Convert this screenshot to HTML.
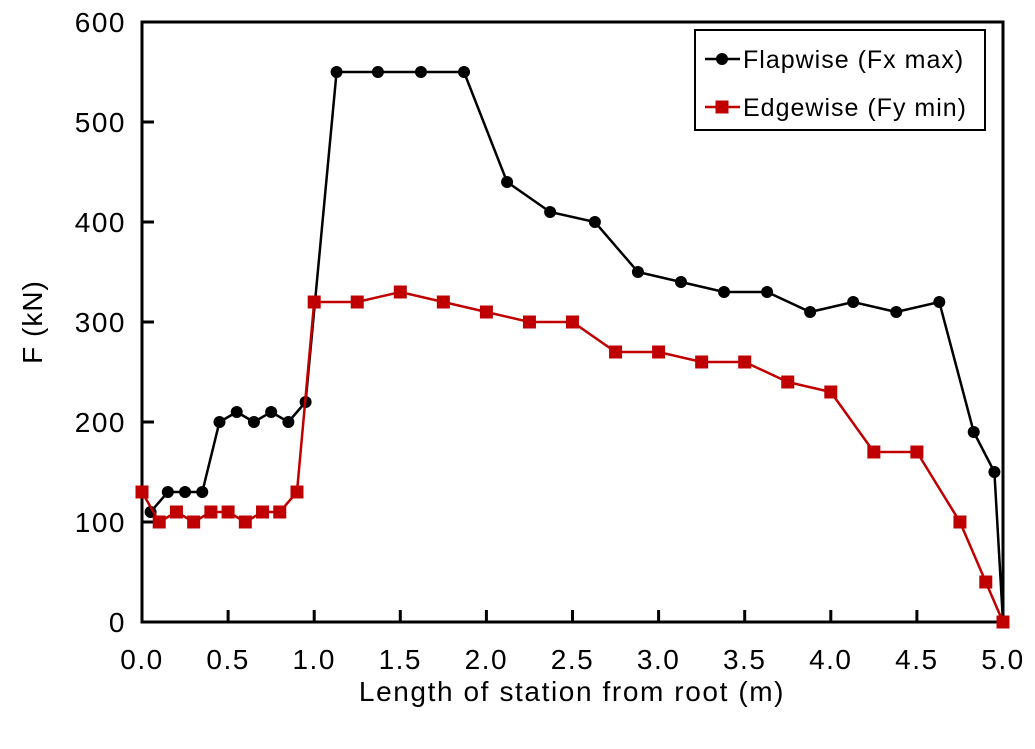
<!DOCTYPE html>
<html><head><meta charset="utf-8"><style>
body{margin:0;background:#fff;}
svg{display:block;font-family:"Liberation Sans",sans-serif;}
</style></head><body>
<svg id="chart" width="1035" height="749"></svg>
<script>
const flapX=[0.05,0.15,0.25,0.35,0.45,0.55,0.65,0.75,0.85,0.95,1.13,1.37,1.62,1.87,2.12,2.37,2.63,2.88,3.13,3.38,3.63,3.88,4.13,4.38,4.63,4.83,4.95,5.0];
const flapY=[110,130,130,130,200,210,200,210,200,220,550,550,550,550,440,410,400,350,340,330,330,310,320,310,320,190,150,0];
const edgeX=[0,0.1,0.2,0.3,0.4,0.5,0.6,0.7,0.8,0.9,1.0,1.25,1.5,1.75,2.0,2.25,2.5,2.75,3.0,3.25,3.5,3.75,4.0,4.25,4.5,4.75,4.9,5.0];
const edgeY=[130,100,110,100,110,110,100,110,110,130,320,320,330,320,310,300,300,270,270,260,260,240,230,170,170,100,40,0];
const xTicks=[0,0.5,1,1.5,2,2.5,3,3.5,4,4.5,5];
const yTicks=[0,100,200,300,400,500,600];
const L=142,R=1003,T=22,B=622;
const sx=v=>L+(v-0)/5*(R-L);
const sy=v=>B-v/600*(B-T);
const svg=document.getElementById('chart');
const NS='http://www.w3.org/2000/svg';
function mk(tag,attrs,parent){const e=document.createElementNS(NS,tag);for(const k in attrs)e.setAttribute(k,attrs[k]);(parent||svg).appendChild(e);return e;}
const frame=mk('rect',{x:L,y:T,width:R-L,height:B-T,fill:'none',stroke:'#000','stroke-width':3});


yTicks.forEach(v=>{
  const t=mk('line',{x1:L,x2:L+12,y1:sy(v),y2:sy(v),stroke:'#000','stroke-width':3});
  
  
  const lb=mk('text',{x:L-16,y:sy(v)+10,'text-anchor':'end','font-size':28,'letter-spacing':1.5,fill:'#000'});
  lb.textContent=v;
  
  
});
xTicks.forEach(v=>{
  const t=mk('line',{x1:sx(v),x2:sx(v),y1:B,y2:B-12,stroke:'#000','stroke-width':3});
  
  
  const lb=mk('text',{x:sx(v),y:B+47,'text-anchor':'middle','font-size':28,'letter-spacing':1.5,fill:'#000'});
  lb.textContent=v.toFixed(1);
  
  
});
const xt=mk('text',{x:572,y:701,'text-anchor':'middle','font-size':28,'letter-spacing':1.6});
xt.textContent='Length of station from root (m)';


const yt=mk('text',{x:0,y:0,'text-anchor':'middle','font-size':28,'letter-spacing':1,transform:'translate(42,322) rotate(-90)'});
yt.textContent='F (kN)';


function series(xs,ys,color,name,square){
  const pl=mk('polyline',{points:xs.map((x,i)=>sx(x)+','+sy(ys[i])).join(' '),fill:'none',stroke:color,'stroke-width':2.5});
  
  
  xs.forEach((x,i)=>{
    let m;
    if(square)m=mk('rect',{x:sx(x)-6.5,y:sy(ys[i])-6.5,width:13,height:13,fill:color});
    else m=mk('circle',{cx:sx(x),cy:sy(ys[i]),r:6,fill:color});
    
    
  });
}
series(flapX,flapY,'#000','flapwise',false);
series(edgeX,edgeY,'#c00000','edgewise',true);
const lg=mk('rect',{x:695,y:30,width:290,height:100,fill:'#fff',stroke:'#000','stroke-width':2});


const l1=mk('line',{x1:705,x2:740,y1:59,y2:59,stroke:'#000','stroke-width':2.5});


const c1=mk('circle',{cx:722,cy:59,r:6,fill:'#000'});


const t1=mk('text',{x:743,y:68,'font-size':25,'letter-spacing':1});
t1.textContent='Flapwise (Fx max)';


const l2=mk('line',{x1:705,x2:740,y1:107,y2:107,stroke:'#c00000','stroke-width':2.5});


const r2=mk('rect',{x:715.5,y:100.5,width:13,height:13,fill:'#c00000'});


const t2=mk('text',{x:743,y:116,'font-size':25,'letter-spacing':1});
t2.textContent='Edgewise (Fy min)';


</script>
</body></html>
